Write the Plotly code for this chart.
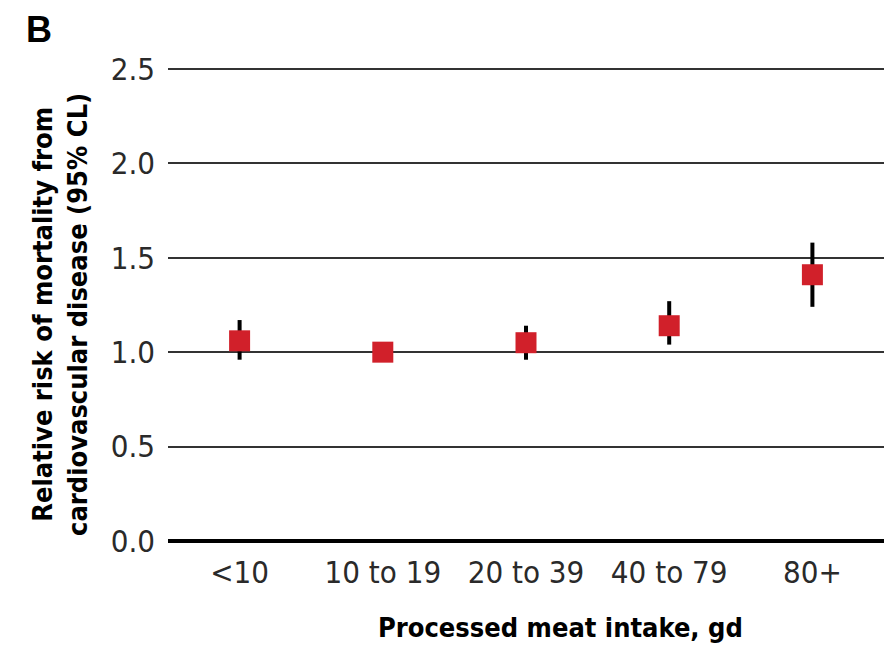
import plotly.graph_objects as go

# Relative risk of CVD mortality by processed meat intake
categories = ["<10", "10 to 19", "20 to 39", "40 to 79", "80+"]
relative_risk = [1.06, 1.00, 1.05, 1.14, 1.41]
ci_upper = [1.17, 1.00, 1.14, 1.27, 1.58]
ci_lower = [0.96, 1.00, 0.96, 1.04, 1.24]
y_ticks = [0.0, 0.5, 1.0, 1.5, 2.0, 2.5]

err_plus = [u - r for u, r in zip(ci_upper, relative_risk)]
err_minus = [r - l for r, l in zip(relative_risk, ci_lower)]

FONT = "DejaVu Sans Condensed, Liberation Sans, sans-serif"

W, H = 896, 646
ML, MR, MT, MB = 168, 12, 67, 105
PW, PH = W - ML - MR, H - MT - MB


def px_to_paper(px, py):
    return (px - ML) / PW, (H - MB - py) / PH


fig = go.Figure()
fig.add_trace(go.Scatter(
    x=list(range(len(categories))),
    y=relative_risk,
    mode="markers",
    marker=dict(symbol="square", size=21, color="#d1202a", line=dict(width=0)),
    error_y=dict(type="data", symmetric=False, array=err_plus, arrayminus=err_minus,
                 color="black", thickness=4, width=0),
    showlegend=False,
))

fig.update_layout(
    width=W, height=H,
    margin=dict(l=ML, r=MR, t=MT, b=MB),
    paper_bgcolor="white", plot_bgcolor="white",
    font=dict(family=FONT, color="#222"),
    xaxis=dict(
        range=[-0.5, 4.5],
        tickmode="array", tickvals=list(range(len(categories))), ticktext=categories,
        tickfont=dict(size=31, color="#2a2a2a"),
        showgrid=False, zeroline=False, showline=False,
        ticks="", ticklabelstandoff=10,
    ),
    yaxis=dict(
        range=[0, 2.51],
        tickmode="array", tickvals=y_ticks, ticktext=[f"{v:.1f}" for v in y_ticks],
        tickfont=dict(size=31, color="#2a2a2a"),
        showgrid=True, gridcolor="#333", gridwidth=1.5,
        zeroline=True, zerolinecolor="black", zerolinewidth=4,
        showline=False, ticks="", ticklabelstandoff=12,
    ),
)

bx, by = px_to_paper(39, 30)
tx, ty = px_to_paper(60, 315)
xx, xy = px_to_paper(560, 627)
fig.add_annotation(text="<b>B</b>", x=bx, y=by, xref="paper", yref="paper",
                   showarrow=False, xanchor="center", yanchor="middle",
                   font=dict(size=36, family="Liberation Sans, sans-serif", color="black"))
fig.add_annotation(text="<b>Relative risk of mortality from<br>cardiovascular disease (95% CL)</b>",
                   x=tx, y=ty, xref="paper", yref="paper", textangle=-90,
                   showarrow=False, xanchor="center", yanchor="middle",
                   font=dict(size=27, family=FONT, color="black"))
fig.add_annotation(text="<b>Processed meat intake, gd</b>", x=xx, y=xy,
                   xref="paper", yref="paper", showarrow=False,
                   xanchor="center", yanchor="middle",
                   font=dict(size=27, family=FONT, color="black"))

fig.write_html("out.html")
